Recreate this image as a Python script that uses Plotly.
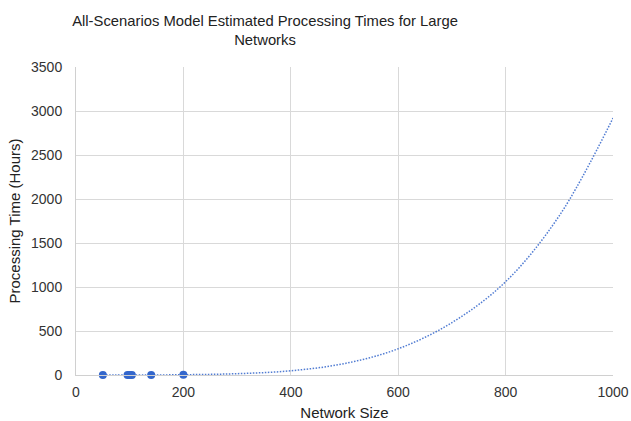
import plotly.graph_objects as go

# Observed data points (network size vs processing time in hours)
network_size = [50, 96, 100, 104, 140, 200]
processing_hours = [0.05, 0.3, 0.35, 0.4, 1.0, 3.0]

# Trendline values
trend_x = [50, 100, 200, 300, 400, 500, 600, 700, 800, 900, 1000]
trend_y = [0, 0.2, 3, 15, 48, 130, 298, 595, 1060, 1810, 2920]

x_ticks = [0, 200, 400, 600, 800, 1000]
y_ticks = [0, 500, 1000, 1500, 2000, 2500, 3000, 3500]

color = "#3366cc"

fig = go.Figure()
fig.add_trace(go.Scatter(
    x=trend_x, y=trend_y, mode="lines",
    line=dict(color=color, width=1.5, dash="1.5px,1.5px", shape="spline"),
    opacity=0.85, hoverinfo="skip", showlegend=False,
))
fig.add_trace(go.Scatter(
    x=network_size, y=processing_hours, mode="markers",
    marker=dict(color=color, size=8),
    showlegend=False, cliponaxis=False,
))

fig.update_layout(
    width=631, height=421,
    margin=dict(l=76, r=18, t=67, b=46),
    paper_bgcolor="white", plot_bgcolor="white",
    font=dict(family="Liberation Sans, Arial, sans-serif", size=14, color="#222222"),
    title=dict(
        text="All-Scenarios Model Estimated Processing Times for Large<br>Networks",
        x=0.42, xanchor="center", y=0.938, yanchor="top",
        font=dict(size=14.8, color="#222222"),
    ),
    xaxis=dict(
        range=[0, 1000], tickvals=x_ticks, showgrid=True, gridcolor="#d9d9d9",
        zeroline=False, showline=True, linecolor="#d0d0d0", mirror=False,
        title=dict(text="Network Size", standoff=8, font=dict(size=15)),
        tickfont=dict(size=14, color="#333333"), ticks="", ticklabelstandoff=4,
        ticklabeloverflow="allow",
    ),
    yaxis=dict(
        range=[0, 3500], tickvals=y_ticks, showgrid=True, gridcolor="#d9d9d9",
        zeroline=False, showline=True, linecolor="#d0d0d0",
        title=dict(text="Processing Time (Hours)", standoff=6, font=dict(size=15)),
        tickfont=dict(size=14, color="#333333"), ticks="", ticklabelstandoff=10,
    ),
)
fig.update_xaxes(automargin=False)
fig.update_yaxes(automargin=False)

fig.write_html("out.html", config={"displayModeBar": False},
               post_script="document.body.style.margin='0';")
